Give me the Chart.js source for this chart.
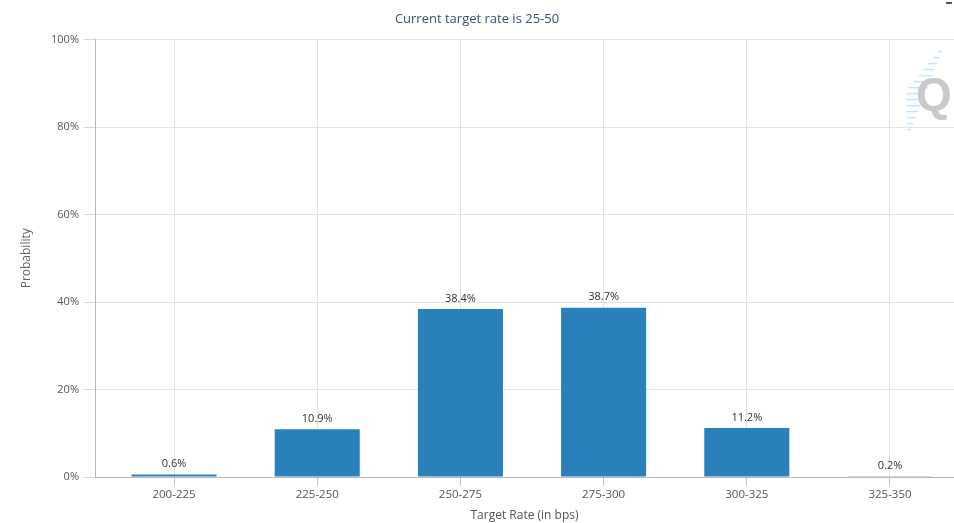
<!DOCTYPE html>
<html><head><meta charset="utf-8">
<script src="https://cdn.jsdelivr.net/npm/chart.js@4/dist/chart.umd.min.js"></script>
<style>html,body{margin:0;padding:0;background:#fff;overflow:hidden}#wrap{width:954px;height:523px;position:relative}</style>
</head><body><div id="wrap"><canvas id="c"></canvas></div>
<script>
const categories = ["200-225","225-250","250-275","275-300","300-325","325-350"];
const probabilities = [0.6, 10.9, 38.4, 38.7, 11.2, 0.2];
const yTicks = [0, 20, 40, 60, 80, 100];
const titleText = "Current target rate is 25-50";
const xTitle = "Target Rate (in bps)";
const yTitle = "Probability";

const FONT = "'Open Sans', 'DejaVu Sans', sans-serif";

const labelPlugin = {
  id: 'barLabels',
  afterDatasetsDraw(chart) {
    const ctx = chart.ctx;
    const meta = chart.getDatasetMeta(0);
    ctx.save();
    ctx.font = "11px " + FONT;
    ctx.fillStyle = "#333333";
    ctx.textAlign = "center";
    ctx.textBaseline = "bottom";
    meta.data.forEach((bar, i) => {
      ctx.fillText(probabilities[i].toFixed(1) + "%", bar.x, bar.y - 5);
    });
    ctx.restore();
  }
};

const logoPlugin = {
  id: 'logo',
  afterDraw(chart) {
    const ctx = chart.ctx;
    const a = chart.chartArea;
    ctx.save();
    ctx.strokeStyle = "rgba(120,200,235,0.45)";
    ctx.lineWidth = 1.5;
    for (let k = 0; k < 14; k++) {
      const yy = a.top + 12 + k * 6;
      const xr = a.right - 12 - k * 2.4;
      const len = (k < 7 ? 4 + k * 2.5 : 4 + (13 - k) * 2.5);
      ctx.beginPath();
      ctx.moveTo(xr - len, yy);
      ctx.lineTo(xr, yy);
      ctx.stroke();
    }
    ctx.fillStyle = "#c9c9c9";
    ctx.font = "bold 46px 'Liberation Sans', sans-serif";
    ctx.textAlign = "left";
    ctx.textBaseline = "middle";
    ctx.fillText("Q", a.right - 38, a.top + 58);
    ctx.fillStyle = "#555";
    ctx.fillRect(chart.width - 8, 2, 6, 2);
    ctx.restore();
  }
};

new Chart(document.getElementById('c'), {
  type: 'bar',
  data: {
    datasets: [{
      data: probabilities.map((v, i) => ({ x: i, y: v })),
      backgroundColor: "#2a80b9",
      borderWidth: 0,
      barPercentage: 0.594,
      categoryPercentage: 1.0
    }]
  },
  options: {
    responsive: true,
    maintainAspectRatio: false,
    animation: false,
    layout: { padding: { left: 0, right: 0, top: 0, bottom: 0 } },
    plugins: {
      legend: { display: false },
      tooltip: { enabled: false },
      title: {
        display: true,
        text: titleText,
        color: "#3d4f73",
        font: { family: FONT, size: 13, weight: 'normal' },
        padding: { top: 11, bottom: 13 }
      }
    },
    scales: {
      x: {
        type: 'linear',
        offset: false,
        min: -0.552,
        max: 5.447,
        afterBuildTicks(scale) { scale.ticks = categories.map((c, i) => ({ value: i })); },
        afterFit(scale) { scale.height = 46; },
        ticks: {
          autoSkip: false,
          maxRotation: 0,
          color: "#555555",
          font: { family: FONT, size: 11.5 },
          padding: 2,
          callback: (v) => categories[v] ?? ''
        },
        grid: { offset: false, color: "#e3e3e3", tickColor: "#c0c0c0", tickLength: 9, drawTicks: true },
        border: { display: true, color: "#b8b8b8", width: 1 },
        title: {
          display: true,
          text: xTitle,
          color: "#555555",
          font: { family: FONT, size: 12 },
          padding: { top: 4, bottom: 0 }
        }
      },
      y: {
        min: 0,
        max: 100,
        afterBuildTicks(scale) { scale.ticks = yTicks.map(v => ({ value: v })); },
        afterFit(scale) { scale.width = 95; },
        ticks: {
          color: "#555555",
          font: { family: FONT, size: 11 },
          padding: 5,
          callback: (v) => v + '%'
        },
        grid: { color: "#e3e3e3", tickColor: "#d8d8d8", tickLength: 11, drawTicks: true },
        border: { display: true, color: "#b8b8b8", width: 1 },
        title: {
          display: true,
          text: yTitle,
          color: "#666666",
          font: { family: FONT, size: 12 },
          padding: { top: 19, bottom: 0 }
        }
      }
    }
  },
  plugins: [labelPlugin, logoPlugin]
});
</script></body></html>
